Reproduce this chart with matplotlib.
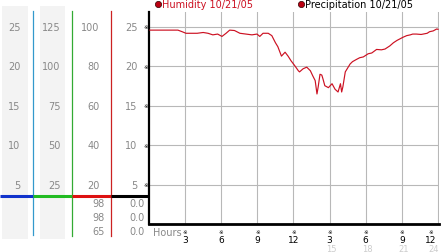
import matplotlib
matplotlib.use("Agg")
import matplotlib.pyplot as plt
from matplotlib.transforms import blended_transform_factory, offset_copy
from matplotlib.lines import Line2D
from matplotlib.patches import Rectangle

# ---- data ----
hours = [0.08, 0.9, 1.75, 2.4, 2.75, 3.07, 3.57, 4.0, 4.5, 4.9, 5.3, 5.7, 6.06, 6.4, 6.7,
         7.1, 7.55, 8.05, 8.55, 8.97, 9.2, 9.47, 9.9, 10.2, 10.5, 10.7, 11.0, 11.3, 11.55,
         11.8, 12.1, 12.4, 12.5, 12.8, 13.1, 13.4, 13.6, 13.8, 13.95, 14.05, 14.2, 14.35,
         14.45, 14.6, 14.9, 15.2, 15.45, 15.7, 15.9, 16.0, 16.1, 16.3, 16.5, 16.7, 16.9,
         17.25, 17.5, 17.8, 18.2, 18.5, 18.9, 19.3, 19.6, 20.0, 20.3, 20.6, 20.85, 21.1,
         21.4, 21.7, 21.9, 22.2, 22.6, 23.1, 23.3, 23.6, 23.9, 24.0]
humidity = [24.6, 24.6, 24.6, 24.6, 24.4, 24.2, 24.2, 24.2, 24.3, 24.2, 24.0, 24.1, 23.8,
            24.2, 24.6, 24.55, 24.2, 24.1, 24.0, 24.1, 23.8, 24.2, 24.2, 23.9, 23.0, 22.5,
            21.3, 21.8, 21.3, 20.7, 20.1, 19.45, 19.3, 19.7, 19.9, 19.45, 18.8, 18.2, 16.5,
            17.4, 19.0, 18.9, 18.4, 17.55, 17.3, 17.8, 17.1, 16.75, 17.8, 16.75, 17.4, 19.3,
            19.8, 20.3, 20.6, 20.9, 21.1, 21.2, 21.6, 21.7, 22.15, 22.1, 22.2, 22.6, 23.0,
            23.3, 23.5, 23.7, 23.9, 24.0, 24.1, 24.1, 24.05, 24.2, 24.4, 24.5, 24.75, 24.7]

y_ticks = [25, 20, 15, 10, 5]
col1_labels = ["25", "20", "15", "10", "5"]
col2_labels = ["125", "100", "75", "50", "25"]
col3_labels = ["100", "80", "60", "40", "20"]
col4_labels = ["25", "20", "15", "10", "5"]
col3_extra = ["98", "98", "65"]
col4_extra = ["0.0", "0.0", "0.0"]
x_ticks = [3, 6, 9, 12, 15, 18, 21, 24]
x_labels = ["3", "6", "9", "12", "3", "6", "9", "12"]
x_labels2 = ["", "", "", "", "15", "18", "21", "24"]
legend_items = ["Humidity 10/21/05", "Precipitation 10/21/05"]

W, H = 442, 253
fig = plt.figure(figsize=(W / 100, H / 100), dpi=100)
fig.patch.set_facecolor("white")

def fx(px):
    return px / W

def fy(py):
    return 1 - py / H

# main axes
x0, x1 = 149, 439.2
y_top, y_bot = 13, 225
ax = fig.add_axes([fx(x0), fy(y_bot), fx(x1) - fx(x0), (y_bot - y_top) / H])
ax.set_xlim(0, 24.1)
ax.set_ylim(0, 26.9)
ax.set_facecolor("none")
for s in ["top", "right"]:
    ax.spines[s].set_visible(False)
ax.spines["left"].set_linewidth(1.6)
ax.spines["bottom"].set_linewidth(2.0)
ax.spines["left"].set_color("black")
ax.spines["bottom"].set_color("black")
ax.set_xticks([])
ax.set_yticks([])

grid_c = "#b8b8b8"
for v in y_ticks:
    ax.axhline(v, color=grid_c, lw=0.8, zorder=1)
for h in x_ticks:
    ax.axvline(h, color=grid_c, lw=0.8, zorder=1)

ax.plot(hours, humidity, color="#cc1122", lw=0.85, zorder=3)

# overlay for decorations (figure pixel coords)
ov = fig.add_axes([0, 0, 1, 1], zorder=-1)
ov.set_xlim(0, W)
ov.set_ylim(H, 0)
ov.axis("off")

# gray column backgrounds
ov.add_patch(Rectangle((2, 7), 26, 233, color="#f3f3f3", lw=0))
ov.add_patch(Rectangle((40, 7), 25, 233, color="#f3f3f3", lw=0))

# vertical colored lines
ov.add_line(Line2D([33, 33], [12, 236], color="#3399cc", lw=0.9))
ov.add_line(Line2D([72, 72], [12, 237], color="#33aa33", lw=0.9))
ov.add_line(Line2D([111, 111], [12, 237], color="#cc2222", lw=0.9))

# separator
sep_y = 196.5
ov.add_line(Line2D([0, 33], [sep_y, sep_y], color="#1133cc", lw=2.2, solid_capstyle="butt"))
ov.add_line(Line2D([33, 72], [sep_y, sep_y], color="#22bb22", lw=2.2, solid_capstyle="butt"))
ov.add_line(Line2D([72, 111], [sep_y, sep_y], color="#dd1111", lw=2.2, solid_capstyle="butt"))
ov.add_line(Line2D([111, 149], [sep_y, sep_y], color="black", lw=2.2, solid_capstyle="butt"))

# left panel labels aligned to main y scale
tr = blended_transform_factory(fig.transFigure, ax.transData)
lab_c = "#888888"
fs = 7
for v, a, b, c, d in zip(y_ticks, col1_labels, col2_labels, col3_labels, col4_labels):
    fig.text(fx(20.5), v, a, transform=tr, ha="right", va="center", color=lab_c, fontsize=fs)
    fig.text(fx(60.5), v, b, transform=tr, ha="right", va="center", color=lab_c, fontsize=fs)
    fig.text(fx(99.5), v, c, transform=tr, ha="right", va="center", color=lab_c, fontsize=fs)
    fig.text(fx(137.5), v, d, transform=tr, ha="right", va="center", color=lab_c, fontsize=fs)
    fig.text(fx(146), v, "\u203b", transform=tr, ha="center", va="center", color="black", fontsize=4)

for i, (a, b) in enumerate(zip(col3_extra, col4_extra)):
    py = 204.5 + i * 14
    ov.text(105, py, a, ha="right", va="center", color=lab_c, fontsize=fs)
    ov.text(144.5, py, b, ha="right", va="center", color=lab_c, fontsize=fs)

# x labels
xtr = ax.get_xaxis_transform()
ov.text(153, 233, "Hours", ha="left", va="center", color=lab_c, fontsize=fs)
n = len(x_ticks)
for i, (h, l1, l2) in enumerate(zip(x_ticks, x_labels, x_labels2)):
    dx = -7 if i == n - 1 else 0
    t1 = offset_copy(xtr, fig=fig, x=dx, y=0, units="dots")
    ax.text(h, -0.035, "\u203b", transform=t1, ha="center", va="center", fontsize=4, color="black")
    ax.text(h, -0.072, l1, transform=t1, ha="center", va="center", fontsize=6.5, color="black")
    if l2:
        dx2 = -4 if i == n - 1 else 2
        t2 = offset_copy(xtr, fig=fig, x=dx2, y=0, units="dots")
        ax.text(h, -0.114, l2, transform=t2, ha="center", va="center", fontsize=6, color="#cccccc")

# legend
ov.plot([158], [5], "o", ms=4.5, mfc="#bb0011", mec="#330000", mew=0.5)
ov.text(162, 5, legend_items[0], ha="left", va="center", color="#cc1122", fontsize=fs)
ov.plot([301], [5], "o", ms=4.5, mfc="#bb0011", mec="#330000", mew=0.5)
ov.text(305, 5, legend_items[1], ha="left", va="center", color="black", fontsize=fs)

fig.savefig("out.png", dpi=100)
